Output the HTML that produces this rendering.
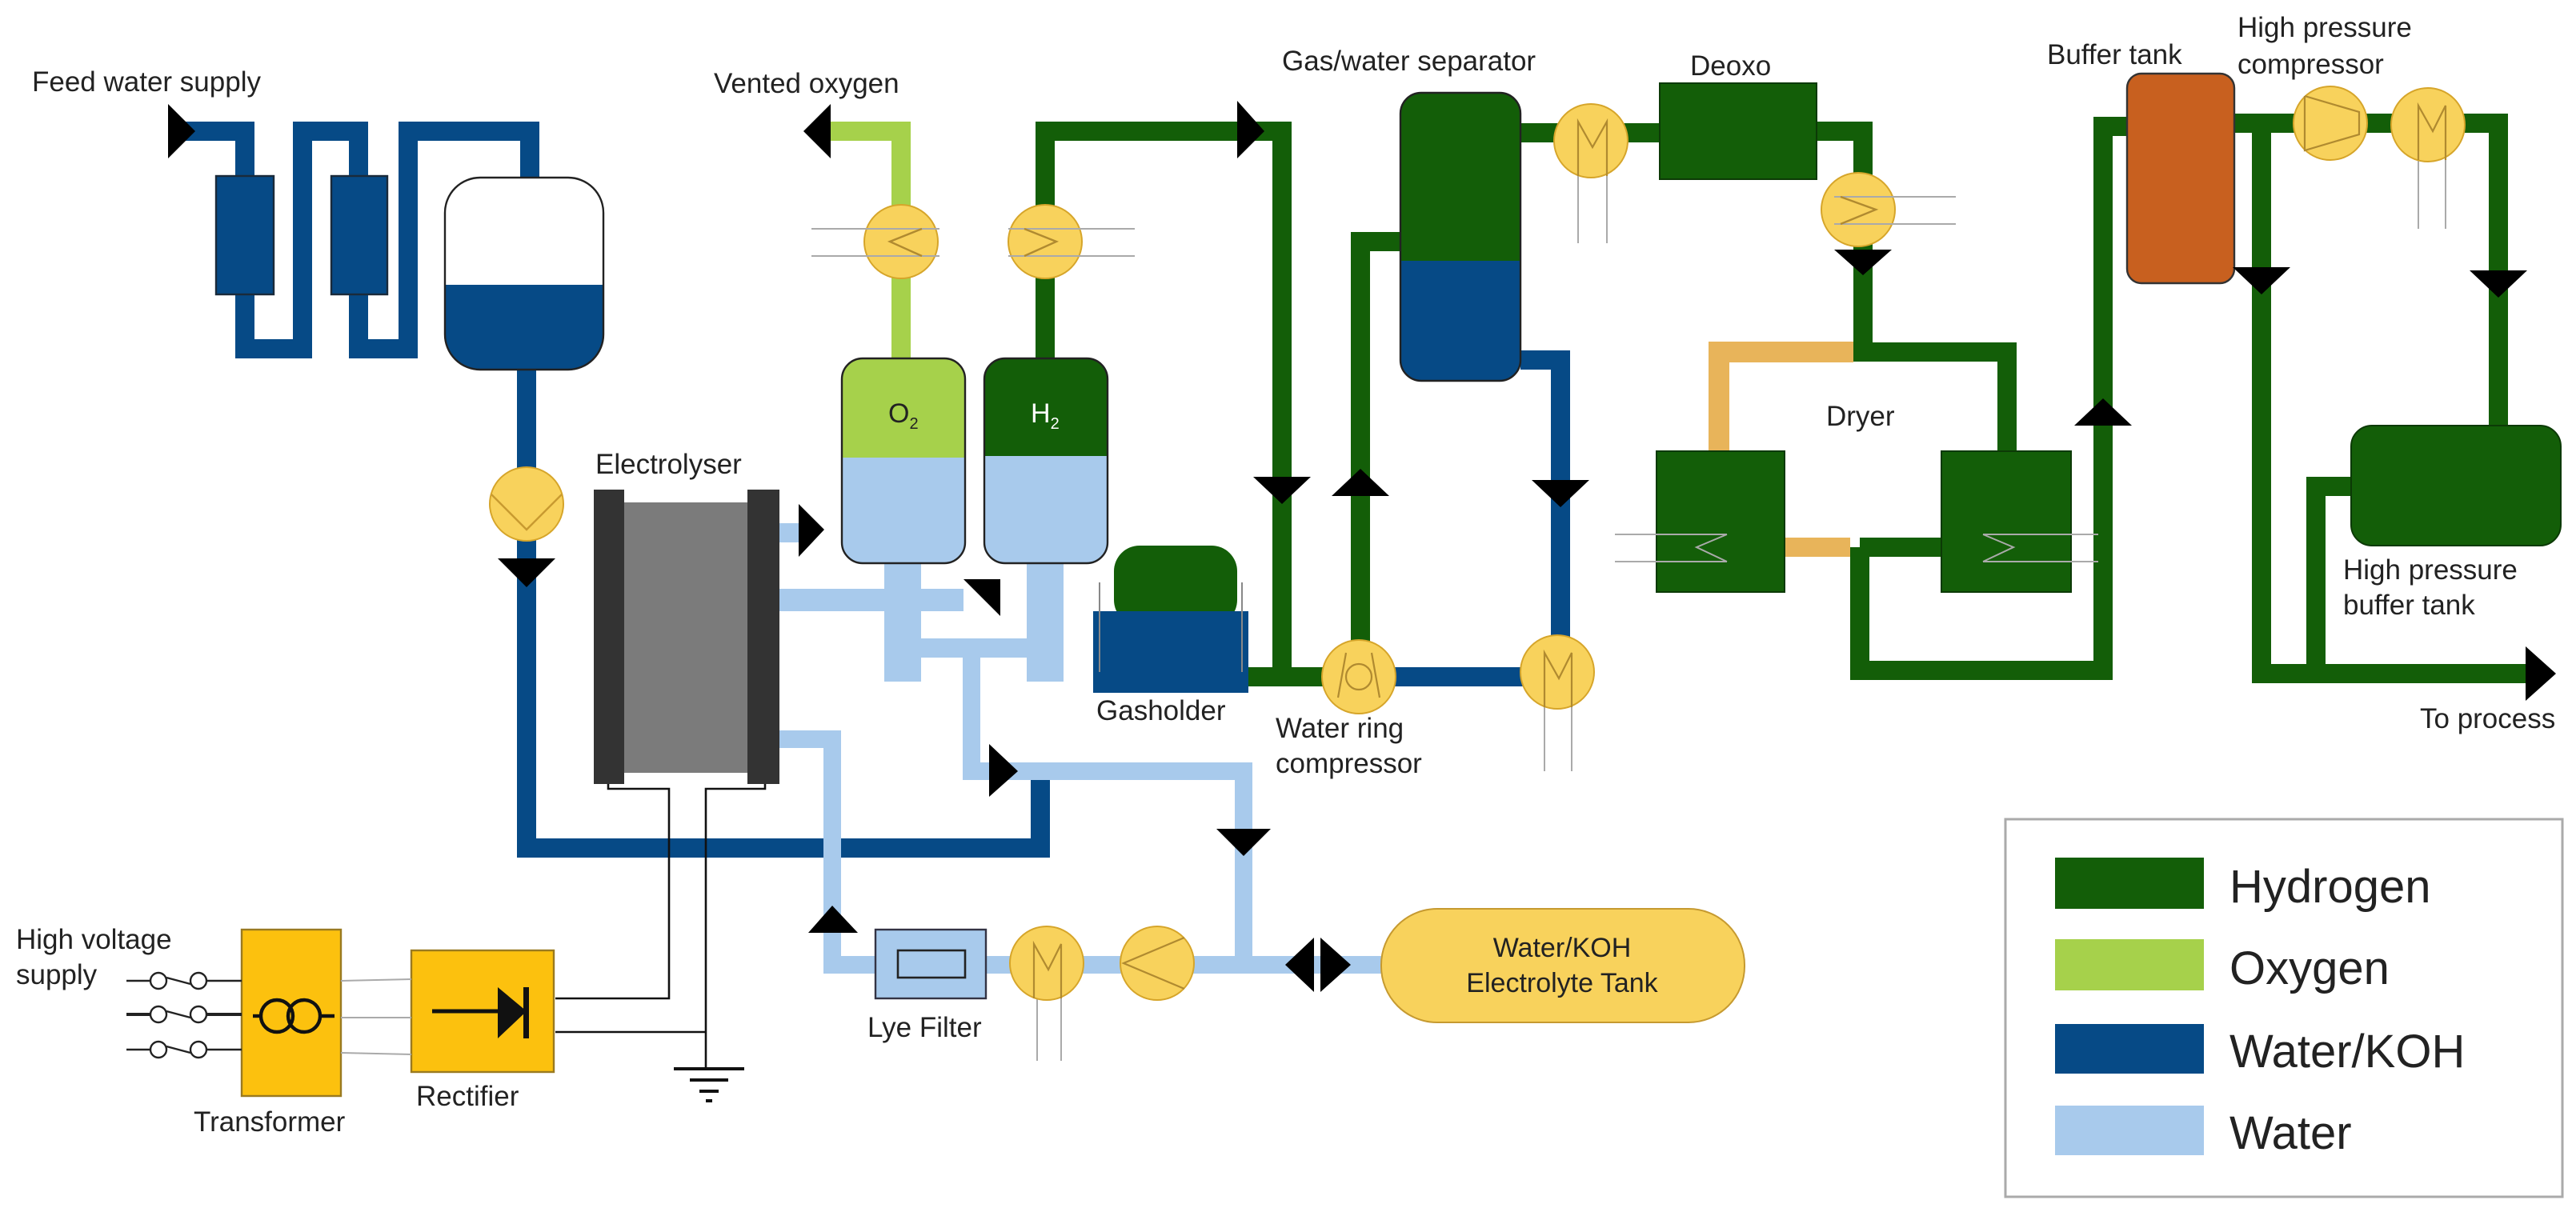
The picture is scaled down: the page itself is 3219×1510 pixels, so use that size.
<!DOCTYPE html>
<html><head><meta charset="utf-8"><style>
html,body{margin:0;padding:0;background:#fff}
svg{display:block}
text{font-family:"Liberation Sans",sans-serif;fill:#222}
</style></head><body>
<svg width="3219" height="1510" viewBox="0 0 1609.5 755" xmlns="http://www.w3.org/2000/svg">
<rect width="1609.5" height="755" fill="#fff"/>
<g fill="none" stroke-linejoin="miter" stroke-linecap="butt">
<!-- Water/KOH dark blue -->
<g stroke="#064a86" stroke-width="12">
<path d="M105,82 H153 V218 H189 V82 H224 V218 H255 V82 H331 V112"/>
<path d="M329,231 V530 H650 V486"/>
<path d="M950,225 H975 V423 H849"/>
</g>
<!-- Water light blue -->
<g stroke="#a8caec">
<path stroke-width="12" d="M487,333 H500"/>
<path stroke-width="14" d="M487,375 H602"/>
<path stroke-width="23" d="M564,352 V426"/>
<path stroke-width="23" d="M653,352 V426"/>
<path stroke-width="12" d="M575,405 H642"/>
<path stroke-width="11" d="M607,411 V482 H777 V603"/>
<path stroke-width="11" d="M487,462 H520 V603 H863"/>
</g>
<!-- Oxygen -->
<path stroke="#a6d14b" stroke-width="12" d="M519,82 H563 V224"/>
<!-- Hydrogen -->
<g stroke="#135e08" stroke-width="12">
<path d="M653,224 V82 H801 V423 H780"/>
<path d="M801,423 H849"/>
<path d="M850,423 V151 H875"/>
<path d="M950,83 H1037"/>
<path d="M1135,82 H1164 V220 H1254 V282"/>
<path d="M1162,342 H1213"/>
<path d="M1162,342 V419 H1314 V79 H1329"/>
<path d="M1396,77 H1561 V266"/>
<path d="M1413,77 V421 H1585"/>
<path d="M1469,304 H1447 V421"/>
</g>
<!-- dryer ochre -->
<path stroke="#e8b45a" stroke-width="13" d="M1158,220 H1074 V282"/>
<path stroke="#e8b45a" stroke-width="12" d="M1115,342 H1156"/>
</g>

<!-- Feed tank -->
<rect x="135" y="110" width="36" height="74" fill="#064a86" stroke="#1a2a3a" stroke-width="1.2"/>
<rect x="207" y="110" width="35" height="74" fill="#064a86" stroke="#1a2a3a" stroke-width="1.2"/>
<clipPath id="ft"><rect x="278" y="111" width="99" height="120" rx="22"/></clipPath>
<g clip-path="url(#ft)"><rect x="278" y="111" width="99" height="120" fill="#fff"/><rect x="278" y="178" width="99" height="60" fill="#064a86"/></g>
<rect x="278" y="111" width="99" height="120" rx="22" fill="none" stroke="#222" stroke-width="1.2"/>

<!-- pump feed -->
<circle cx="329" cy="315" r="23" fill="#f8d25c" stroke="#d6a52a" stroke-width="1"/>
<polyline points="307,309 329,331 351,309" fill="none" stroke="#c89a30" stroke-width="1.2"/>

<!-- Electrolyser -->
<rect x="390" y="314" width="77" height="169" fill="#7b7b7b"/>
<rect x="371" y="306" width="19" height="184" fill="#333"/>
<rect x="467" y="306" width="20" height="184" fill="#333"/>
<text x="372" y="296" font-size="17.5">Electrolyser</text>

<!-- wires -->
<g fill="none" stroke="#111" stroke-width="1.3">
<polyline points="380,490 380,493 418,493 418,624 347,624"/>
<polyline points="478,490 478,493 441,493 441,668"/>
<line x1="347" y1="645" x2="441" y2="645"/>
<line x1="421" y1="668" x2="465" y2="668" stroke-width="2"/>
<line x1="431" y1="675" x2="455" y2="675" stroke-width="2"/>
<line x1="437" y1="682" x2="449" y2="682" stroke-width="2"/>
<line x1="441" y1="688" x2="445" y2="688" stroke-width="2"/>
</g>

<!-- Transformer / rectifier -->
<rect x="151" y="581" width="62" height="104" fill="#fcc10e" stroke="#9a7a20" stroke-width="1.2"/>
<rect x="257" y="594" width="89" height="76" fill="#fcc10e" stroke="#9a7a20" stroke-width="1.2"/>
<g stroke="#222" stroke-width="1.2" fill="#fff">
<line x1="79" y1="613" x2="94" y2="613"/><circle cx="99" cy="613" r="5"/><circle cx="124" cy="613" r="5"/><line x1="104" y1="611" x2="119" y2="615"/><line x1="129" y1="613" x2="151" y2="613"/>
<line x1="79" y1="634" x2="94" y2="634" stroke-width="2"/><circle cx="99" cy="634" r="5"/><circle cx="124" cy="634" r="5"/><line x1="104" y1="632" x2="119" y2="636"/><line x1="129" y1="634" x2="151" y2="634" stroke-width="2"/>
<line x1="79" y1="656" x2="94" y2="656"/><circle cx="99" cy="656" r="5"/><circle cx="124" cy="656" r="5"/><line x1="104" y1="654" x2="119" y2="658"/><line x1="129" y1="656" x2="151" y2="656"/>
</g>
<g stroke="#aaa" stroke-width="1"><line x1="213" y1="613" x2="257" y2="612"/><line x1="213" y1="636" x2="257" y2="636"/><line x1="213" y1="658" x2="257" y2="659"/></g>
<g stroke="#111" stroke-width="2.2" fill="none"><line x1="158" y1="635" x2="163" y2="635"/><line x1="200" y1="635" x2="209" y2="635"/><circle cx="173" cy="635" r="10"/><circle cx="190" cy="635" r="10"/></g>
<line x1="270" y1="632" x2="311" y2="632" stroke="#111" stroke-width="2.5"/>
<polygon points="311,617 329,632 311,649" fill="#111"/>
<rect x="327" y="617" width="3.5" height="32" fill="#111"/>
<text x="10" y="593" font-size="17.5">High voltage</text>
<text x="10" y="615" font-size="17.5">supply</text>
<text x="121" y="707" font-size="17.5">Transformer</text>
<text x="260" y="691" font-size="17.5">Rectifier</text>

<!-- O2 / H2 separators -->
<clipPath id="o2"><rect x="526" y="224" width="77" height="128" rx="13"/></clipPath>
<g clip-path="url(#o2)"><rect x="526" y="224" width="77" height="128" fill="#a8caec"/><rect x="526" y="224" width="77" height="62" fill="#a6d14b"/></g>
<rect x="526" y="224" width="77" height="128" rx="13" fill="none" stroke="#222" stroke-width="1.2"/>
<clipPath id="h2"><rect x="615" y="224" width="77" height="128" rx="13"/></clipPath>
<g clip-path="url(#h2)"><rect x="615" y="224" width="77" height="128" fill="#a8caec"/><rect x="615" y="224" width="77" height="61" fill="#135e08"/></g>
<rect x="615" y="224" width="77" height="128" rx="13" fill="none" stroke="#222" stroke-width="1.2"/>
<text x="555" y="264" font-size="17">O<tspan font-size="10" dy="4">2</tspan></text>
<text x="644" y="264" font-size="17" style="fill:#fff">H<tspan font-size="10" dy="4">2</tspan></text>

<!-- heat exchangers top -->
<g stroke="#aaa" stroke-width="1"><line x1="507" y1="143" x2="587" y2="143"/><line x1="507" y1="160" x2="587" y2="160"/><line x1="632" y1="143" x2="709" y2="143"/><line x1="632" y1="160" x2="709" y2="160"/></g>
<circle cx="563" cy="151" r="23" fill="#f8d25c" stroke="#d6a52a"/>
<circle cx="653" cy="151" r="23" fill="#f8d25c" stroke="#d6a52a"/>
<g stroke="#aaa" stroke-width="1"><line x1="540" y1="143" x2="586" y2="143"/><line x1="540" y1="160" x2="586" y2="160"/><line x1="630" y1="143" x2="676" y2="143"/><line x1="630" y1="160" x2="676" y2="160"/></g>
<polyline points="576,143 556,151 576,160" fill="none" stroke="#b08a30" stroke-width="1.2"/>
<polyline points="640,143 660,151 640,160" fill="none" stroke="#b08a30" stroke-width="1.2"/>
<text x="446" y="58" font-size="17.5">Vented oxygen</text>
<text x="20" y="57" font-size="17.5">Feed water supply</text>

<!-- Gasholder -->
<rect x="696" y="341" width="77" height="50" rx="16" fill="#135e08"/>
<rect x="683" y="382" width="97" height="51" fill="#064a86"/>
<g stroke="#888" stroke-width="1"><line x1="687" y1="364" x2="687" y2="420"/><line x1="776" y1="364" x2="776" y2="420"/></g>
<text x="685" y="450" font-size="17.5">Gasholder</text>

<!-- Lye filter & pumps bottom -->
<rect x="547" y="581" width="69" height="43" fill="#a8caec" stroke="#334" stroke-width="1.2"/>
<rect x="561" y="594" width="42" height="17" fill="none" stroke="#222" stroke-width="1.3"/>
<text x="542" y="648" font-size="17.5">Lye Filter</text>
<g stroke="#aaa" stroke-width="1"><line x1="648" y1="610" x2="648" y2="663"/><line x1="663" y1="610" x2="663" y2="663"/></g>
<circle cx="654" cy="602" r="23" fill="#f8d25c" stroke="#d6a52a"/>
<polyline points="646,624 646,590 655,606 663,590 663,624" fill="none" stroke="#b08a30" stroke-width="1.1"/>
<circle cx="723" cy="602" r="23" fill="#f8d25c" stroke="#d6a52a"/>
<polyline points="740,586 702,602 740,618" fill="none" stroke="#b08a30" stroke-width="1.1"/>

<!-- Electrolyte tank -->
<rect x="863" y="568" width="227" height="71" rx="35" fill="#f8d25c" stroke="#c69a30" stroke-width="1"/>
<text x="976" y="598" font-size="17" text-anchor="middle">Water/KOH</text>
<text x="976" y="620" font-size="17" text-anchor="middle">Electrolyte Tank</text>

<!-- Gas/water separator -->
<clipPath id="gw"><rect x="875" y="58" width="75" height="180" rx="13"/></clipPath>
<g clip-path="url(#gw)"><rect x="875" y="58" width="75" height="180" fill="#135e08"/><rect x="875" y="163" width="75" height="80" fill="#064a86"/></g>
<rect x="875" y="58" width="75" height="180" rx="13" fill="none" stroke="#222" stroke-width="1.2"/>
<text x="801" y="44" font-size="17.5">Gas/water separator</text>

<!-- WRC & pumps -->
<circle cx="849" cy="423" r="23" fill="#f8d25c" stroke="#d6a52a"/>
<circle cx="849" cy="423" r="8" fill="none" stroke="#b08a30" stroke-width="1.1"/>
<g stroke="#b08a30" stroke-width="1.1"><line x1="836" y1="436" x2="841" y2="408"/><line x1="862" y1="436" x2="857" y2="408"/></g>
<text x="797" y="461" font-size="17.5">Water ring</text>
<text x="797" y="483" font-size="17.5">compressor</text>
<g stroke="#aaa" stroke-width="1"><line x1="965" y1="430" x2="965" y2="482"/><line x1="982" y1="430" x2="982" y2="482"/><line x1="986" y1="100" x2="986" y2="152"/><line x1="1004" y1="100" x2="1004" y2="152"/><line x1="1511" y1="90" x2="1511" y2="143"/><line x1="1528" y1="90" x2="1528" y2="143"/></g>
<circle cx="973" cy="420" r="23" fill="#f8d25c" stroke="#d6a52a"/>
<polyline points="965,442 965,408 974,424 982,408 982,442" fill="none" stroke="#b08a30" stroke-width="1.1"/>
<circle cx="994" cy="88" r="23" fill="#f8d25c" stroke="#d6a52a"/>
<polyline points="986,110 986,76 995,92 1004,76 1004,110" fill="none" stroke="#b08a30" stroke-width="1.1"/>

<!-- Deoxo -->
<rect x="1037" y="52" width="98" height="60" fill="#135e08" stroke="#0c3a06" stroke-width="1"/>
<text x="1056" y="47" font-size="17.5">Deoxo</text>
<circle cx="1161" cy="131" r="23" fill="#f8d25c" stroke="#d6a52a"/>
<g stroke="#aaa" stroke-width="1"><line x1="1146" y1="123" x2="1222" y2="123"/><line x1="1146" y1="140" x2="1222" y2="140"/></g>
<polyline points="1150,123 1172,131 1150,140" fill="none" stroke="#b08a30" stroke-width="1.2"/>

<!-- Dryer -->
<rect x="1035" y="282" width="80" height="88" fill="#135e08" stroke="#0c3a06"/>
<rect x="1213" y="282" width="81" height="88" fill="#135e08" stroke="#0c3a06"/>
<g stroke="#aaa" stroke-width="1"><line x1="1009" y1="334" x2="1079" y2="334"/><line x1="1009" y1="351" x2="1079" y2="351"/><line x1="1239" y1="334" x2="1311" y2="334"/><line x1="1239" y1="351" x2="1311" y2="351"/></g>
<polyline points="1079,334 1060,342 1079,351" fill="none" stroke="#aaa"/>
<polyline points="1239,334 1258,342 1239,351" fill="none" stroke="#aaa"/>
<text x="1141" y="266" font-size="17.5">Dryer</text>

<!-- Buffer tank & HP -->
<rect x="1329" y="46" width="67" height="131" rx="9" fill="#c8601f" stroke="#333" stroke-width="1.2"/>
<text x="1279" y="40" font-size="17.5">Buffer tank</text>
<text x="1398" y="23" font-size="17.5">High pressure</text>
<text x="1398" y="46" font-size="17.5">compressor</text>
<circle cx="1456" cy="77" r="23" fill="#f8d25c" stroke="#d6a52a"/>
<polyline points="1440,60 1474,70 1474,84 1440,94 1440,60" fill="none" stroke="#b08a30" stroke-width="1.1"/>
<circle cx="1517" cy="78" r="23" fill="#f8d25c" stroke="#d6a52a"/>
<polyline points="1511,100 1511,66 1520,82 1528,66 1528,100" fill="none" stroke="#b08a30" stroke-width="1.1"/>
<rect x="1469" y="266" width="131" height="75" rx="13" fill="#135e08" stroke="#0c3a06"/>
<text x="1464" y="362" font-size="17.5">High pressure</text>
<text x="1464" y="384" font-size="17.5">buffer tank</text>
<text x="1512" y="455" font-size="17.5">To process</text>

<!-- Arrows -->
<g fill="#000">
<polygon points="105,65 122,82 105,99"/>
<polygon points="519,65 502,82 519,99"/>
<polygon points="773,63 790,82 773,99"/>
<polygon points="311,349 347,349 329,367"/>
<polygon points="499,315 515,331 499,348"/>
<polygon points="602,362 625,362 625,385"/>
<polygon points="618,465 636,482 618,498"/>
<polygon points="760,518 794,518 777,535"/>
<polygon points="505,583 536,583 520,566"/>
<polygon points="821,586 803,603 821,620"/>
<polygon points="825,586 844,603 825,620"/>
<polygon points="783,298 819,298 801,315"/>
<polygon points="832,310 868,310 850,293"/>
<polygon points="957,300 993,300 975,317"/>
<polygon points="1146,156 1182,156 1164,172"/>
<polygon points="1296,266 1332,266 1314,249"/>
<polygon points="1395,167 1431,167 1413,184"/>
<polygon points="1543,169 1579,169 1561,186"/>
<polygon points="1578,404 1597,421 1578,438"/>
</g>

<!-- Legend -->
<rect x="1253" y="512" width="348" height="236" fill="#fff" stroke="#aaa" stroke-width="1.5"/>
<rect x="1284" y="536" width="93" height="32" fill="#135e08"/>
<rect x="1284" y="587" width="93" height="32" fill="#a6d14b"/>
<rect x="1284" y="640" width="93" height="31" fill="#064a86"/>
<rect x="1284" y="691" width="93" height="31" fill="#a8caec"/>
<text x="1393" y="564" font-size="29">Hydrogen</text>
<text x="1393" y="615" font-size="29">Oxygen</text>
<text x="1393" y="667" font-size="29">Water/KOH</text>
<text x="1393" y="718" font-size="29">Water</text>
</svg>
</body></html>
